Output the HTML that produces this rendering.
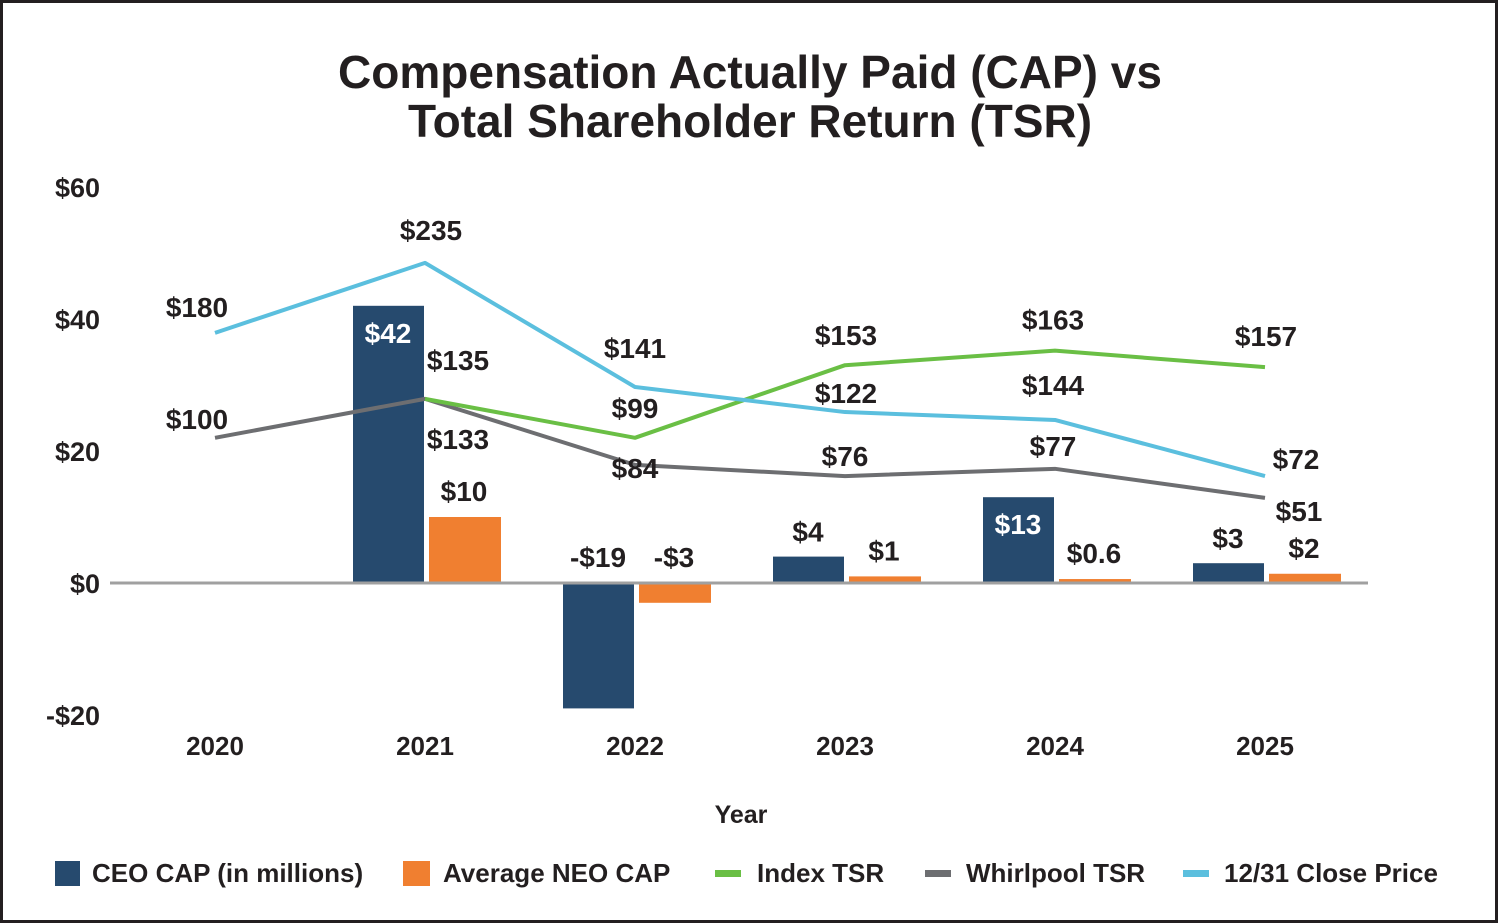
<!DOCTYPE html>
<html><head><meta charset="utf-8"><style>
html,body{margin:0;padding:0;background:#fff}
#wrap{position:relative;width:1499px;height:924px;overflow:hidden}
svg text{font-family:"Liberation Sans",Arial,sans-serif;font-weight:bold;fill:#231f20}
</style></head><body>
<div id="wrap">
<svg id="chart" width="1499" height="924">
<rect x="1.5" y="1.5" width="1495" height="920" fill="#fff" stroke="#231f20" stroke-width="3"/>
<text x="750" y="88" text-anchor="middle" font-size="46">Compensation Actually Paid (CAP) vs</text>
<text x="750" y="137" text-anchor="middle" font-size="46">Total Shareholder Return (TSR)</text>
<text x="741" y="823" text-anchor="middle" font-size="25">Year</text>
<g id="legend">
<g><rect x="55" y="861" width="25" height="25" fill="#264a6e"/><text x="92" y="882" font-size="26">CEO CAP (in millions)</text></g>
<g><rect x="403" y="861" width="27" height="25" fill="#f07f30"/><text x="443" y="882" font-size="26">Average NEO CAP</text></g>
<g><rect x="715" y="870" width="26" height="7" fill="#6abf45"/><text x="757" y="882" font-size="26">Index TSR</text></g>
<g><rect x="925" y="870" width="26" height="7" fill="#6d6e71"/><text x="966" y="882" font-size="26">Whirlpool TSR</text></g>
<g><rect x="1183" y="870" width="26" height="7" fill="#5bbfde"/><text x="1224" y="882" font-size="26">12/31 Close Price</text></g>
</g>
</svg>
</div>
<script>
const years = ['2020','2021','2022','2023','2024','2025'];
const ceoCap = [null, 42, -19, 4, 13, 3];
const ceoLabels = ['', '$42', '-$19', '$4', '$13', '$3'];
const neoCap = [null, 10, -3, 1, 0.6, 1.4];
const neoLabels = ['', '$10', '-$3', '$1', '$0.6', '$2'];
const indexPlot = [null, 27.9, 22, 33, 35.2, 32.7];
const indexLabels = ['', '$135', '$99', '$153', '$163', '$157'];
const whirlPlot = [22, 27.9, 17.9, 16.2, 17.3, 12.9];
const whirlLabels = ['$100', '$133', '$84', '$76', '$77', '$51'];
const closePlot = [37.9, 48.5, 29.7, 25.9, 24.7, 16.2];
const closeLabels = ['$180', '$235', '$141', '$122', '$144', '$72'];
const yTicks = [60, 40, 20, 0, -20];
const yTickLabels = ['$60', '$40', '$20', '$0', '-$20'];

const svg = document.getElementById('chart');
const NS = 'http://www.w3.org/2000/svg';
const xs = i => 215 + i * 210;
const ys = v => 583 - v * 6.6;
function mk(tag, attrs){const e=document.createElementNS(NS,tag);for(const k in attrs)e.setAttribute(k,attrs[k]);svg.appendChild(e);return e;}
function txt(x,y,s,size,anchor,fill){const t=mk('text',{x:x,y:y,'font-size':size,'text-anchor':anchor||'middle'});if(fill)t.style.fill=fill;t.textContent=s;return t;}

yTicks.forEach((v,i)=>{
  const t=txt(100,ys(v)+10,yTickLabels[i],27,'end');
  
  
});
years.forEach((y,i)=>{
  const t=txt(xs(i),ys(0)+172,y,26);
  
  
});

years.forEach((y,i)=>{
  if(ceoCap[i]!==null){
    const v=ceoCap[i];
    const r=mk('rect',{x:xs(i)-72,y:Math.min(ys(v),ys(0)),width:71,height:Math.abs(ys(v)-ys(0)),fill:'#264a6e'});
    
    
    let t;
    if(v>=10) t=txt(xs(i)-37,ys(v)+37,ceoLabels[i],28,'middle','#fff');
    else if(v<0) t=txt(xs(i)-37,ys(0)-16,ceoLabels[i],28);
    else t=txt(xs(i)-37,ys(v)-15,ceoLabels[i],28);
    
    
  }
  if(neoCap[i]!==null){
    const v=neoCap[i];
    const r=mk('rect',{x:xs(i)+4,y:Math.min(ys(v),ys(0)),width:72,height:Math.abs(ys(v)-ys(0)),fill:'#f07f30'});
    
    
    const t=txt(xs(i)+39,(v<0?ys(0):ys(v))-16,neoLabels[i],28);
    
    
  }
});

const axis=mk('line',{x1:110,x2:1368,y1:ys(0),y2:ys(0),stroke:'#a0a0a0','stroke-width':3});



const whirlOff=[[-18,-9],[33,50],[0,13],[0,-10],[-2,-13],[34,23]];
const indexOff=[[0,0],[33,-29],[0,-20],[1,-20],[-2,-21],[1,-21]];
const closeOff=[[-18,-16],[6,-23],[0,-29],[1,-9],[-2,-25],[31,-7]];

function series(vals,labels,off,color,name){
  let pts=[];
  vals.forEach((v,i)=>{if(v!==null)pts.push(xs(i)+','+ys(v));});
  const p=mk('polyline',{points:pts.join(' '),fill:'none',stroke:color,'stroke-width':4,'stroke-linejoin':'round'});
  
  
  vals.forEach((v,i)=>{
    if(v===null)return;
    const t=txt(xs(i)+off[i][0],ys(v)+off[i][1],labels[i],28);
    
    
  });
}
series(whirlPlot,whirlLabels,whirlOff,'#6d6e71','whirlpool-tsr');
series(indexPlot,indexLabels,indexOff,'#6abf45','index-tsr');
series(closePlot,closeLabels,closeOff,'#5bbfde','close-price');
</script>
</body></html>
